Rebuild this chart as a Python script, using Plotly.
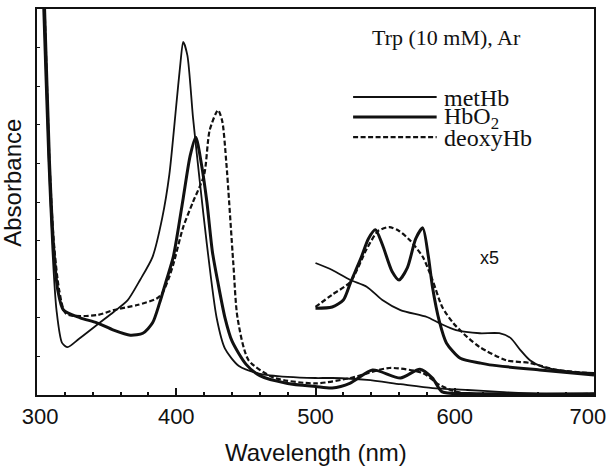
import plotly.graph_objects as go

# ---- data (absorbance in arbitrary units, 0-100 scale) ----
met_wl = [300, 304, 308, 311, 314, 318, 322, 330, 345, 355, 365, 374, 383, 390, 395, 400, 403, 405, 408, 412, 417, 422, 429, 435, 445, 460, 480, 500, 512, 537, 561, 584, 609, 632, 660, 700]
met_ab = [150, 105, 62, 38, 22, 13.5, 12.4, 14.5, 18.7, 21.5, 24.5, 29.8, 35.8, 46, 57, 75, 86, 91.5, 88, 72, 55, 39, 20, 12, 7.5, 5.5, 4.7, 4.4, 4.4, 3.9, 2.8, 1.8, 1.3, 0.8, 0.3, 0.2]

oxy_wl = [300, 305, 309, 312, 315, 319, 331, 343, 355, 367, 376, 383, 388, 393, 398, 405, 410, 414, 418, 422, 426, 430, 435, 440, 450, 460, 480, 500, 512, 525, 541, 561, 575, 584, 591, 610, 700]
oxy_ab = [150, 105, 60, 38, 27, 22, 20, 18.7, 16.8, 15.5, 16, 18.7, 23.8, 29.8, 36, 51, 62, 66.8, 60, 50, 37, 29, 20, 14, 8, 5, 3, 2.2, 1.8, 3.1, 6.5, 4.4, 6.7, 4.4, 0.8, 0.4, 0.3]

deo_wl = [300, 305, 309, 312, 316, 321, 343, 355, 372, 386, 390, 395, 398, 405, 412, 420, 424, 430, 433, 436, 441, 444, 452, 470, 500, 525, 553, 577, 589, 604, 700]
deo_ab = [150, 105, 60, 40, 27, 21, 20.7, 22, 23.3, 25, 26.4, 30.6, 34, 43.5, 50, 57, 68.6, 73.8, 71, 60, 34, 20, 9, 4.5, 3, 4.4, 7, 5.7, 2.6, 0.6, 0.3]

# x5 expanded visible region
met5_wl = [500, 512, 525, 537, 548, 561, 580, 589, 601, 618, 632, 640, 647, 654, 663, 685, 700]
met5_ab = [34.2, 32.4, 29.8, 28, 24.6, 22, 20.2, 18.6, 16.8, 16, 16, 14.8, 11.7, 9, 7.3, 6, 5.7]

oxy5_wl = [500, 512, 520, 525, 533, 538, 543, 548, 555, 560, 566, 572, 577, 581, 584, 589, 594, 604, 618, 625, 661, 700]
oxy5_ab = [22.5, 22.8, 24.6, 29, 35.8, 40.5, 42.8, 39, 32, 29.8, 33, 40.5, 43.3, 36, 28, 19, 13.5, 9.5, 8.3, 7.8, 6.5, 5.2]

deo5_wl = [500, 512, 525, 537, 545, 553, 560, 568, 577, 584, 591, 599, 609, 618, 637, 654, 673, 700]
deo5_ab = [22.8, 26, 29.3, 38, 42.5, 43.5, 42.5, 40, 35.8, 29.8, 22.8, 18.6, 15, 12.4, 9, 8.3, 6.5, 5.6]

x_ticks = [300, 400, 500, 600, 700]
x_ticktext = ["&nbsp;300", "400", "500", "600", "700&nbsp;&nbsp;"]
legend_names = ["metHb", "HbO<sub>2</sub>", "deoxyHb"]

BLACK = "#111111"
thin = dict(color=BLACK, width=1.8)
thick = dict(color=BLACK, width=3.0)
dashed = dict(color=BLACK, width=2.2, dash="5px,2.5px")

fig = go.Figure()
for wl, ab, ln in [(met_wl, met_ab, thin), (oxy_wl, oxy_ab, thick), (deo_wl, deo_ab, dashed),
                   (met5_wl, met5_ab, thin), (oxy5_wl, oxy5_ab, thick), (deo5_wl, deo5_ab, dashed)]:
    fig.add_trace(go.Scatter(x=wl, y=ab, mode="lines", line=dict(**ln, shape="spline", smoothing=0.7),
                             showlegend=False, hoverinfo="skip"))

serif = "Liberation Serif, Times New Roman, serif"
sans = "Liberation Sans, Arial, sans-serif"

# legend drawn inside the plot
leg_y = [77.2, 72.0, 66.8]
for name, y, ln in zip(legend_names, leg_y, [thin, thick, dashed]):
    fig.add_shape(type="line", x0=527, x1=587, y0=y, y1=y, xref="x", yref="y",
                  line=dict(color=ln["color"], width=ln["width"], dash=ln.get("dash", "solid")))
    fig.add_annotation(x=591, y=y - 0.3, text=name, showarrow=False, xanchor="left", yanchor="middle",
                       font=dict(family=serif, size=24, color=BLACK))

fig.add_annotation(x=594, y=92.7, text="Trp (10 mM), Ar", showarrow=False, xanchor="center",
                   yanchor="middle", font=dict(family=serif, size=22, color=BLACK))
fig.add_annotation(x=625, y=35.5, text="x5", showarrow=False, xanchor="center", yanchor="middle",
                   font=dict(family=sans, size=18, color=BLACK))
fig.add_annotation(x=-0.043, y=0.55, xref="paper", yref="paper", text="Absorbance", textangle=-90,
                   showarrow=False, xanchor="center", yanchor="middle",
                   font=dict(family=sans, size=24, color=BLACK))
fig.add_annotation(x=0.5, y=-0.148, xref="paper", yref="paper", text="Wavelength (nm)",
                   showarrow=False, xanchor="center", yanchor="middle",
                   font=dict(family=sans, size=24, color=BLACK))

fig.update_xaxes(range=[300, 700], tickvals=x_ticks, ticktext=x_ticktext,
                 ticks="inside", ticklen=7, tickwidth=1.5, tickcolor=BLACK,
                 minor=dict(dtick=20, ticks="inside", ticklen=3, tickcolor=BLACK),
                 showline=True, linecolor=BLACK, linewidth=2.2, mirror=True, showgrid=False,
                 zeroline=False, ticklabeloverflow="allow", automargin=False,
                 tickfont=dict(family=sans, size=22, color=BLACK))
fig.update_yaxes(range=[0, 100], dtick=10, ticks="inside", ticklen=3, tickcolor=BLACK,
                 showticklabels=False, showline=True, linecolor=BLACK, linewidth=2.2, mirror=True,
                 showgrid=False, zeroline=False, automargin=False)

fig.update_layout(width=608, height=476, margin=dict(l=37, r=14, t=9, b=81, autoexpand=False),
                  paper_bgcolor="white", plot_bgcolor="white")

fig.write_html("out.html")
